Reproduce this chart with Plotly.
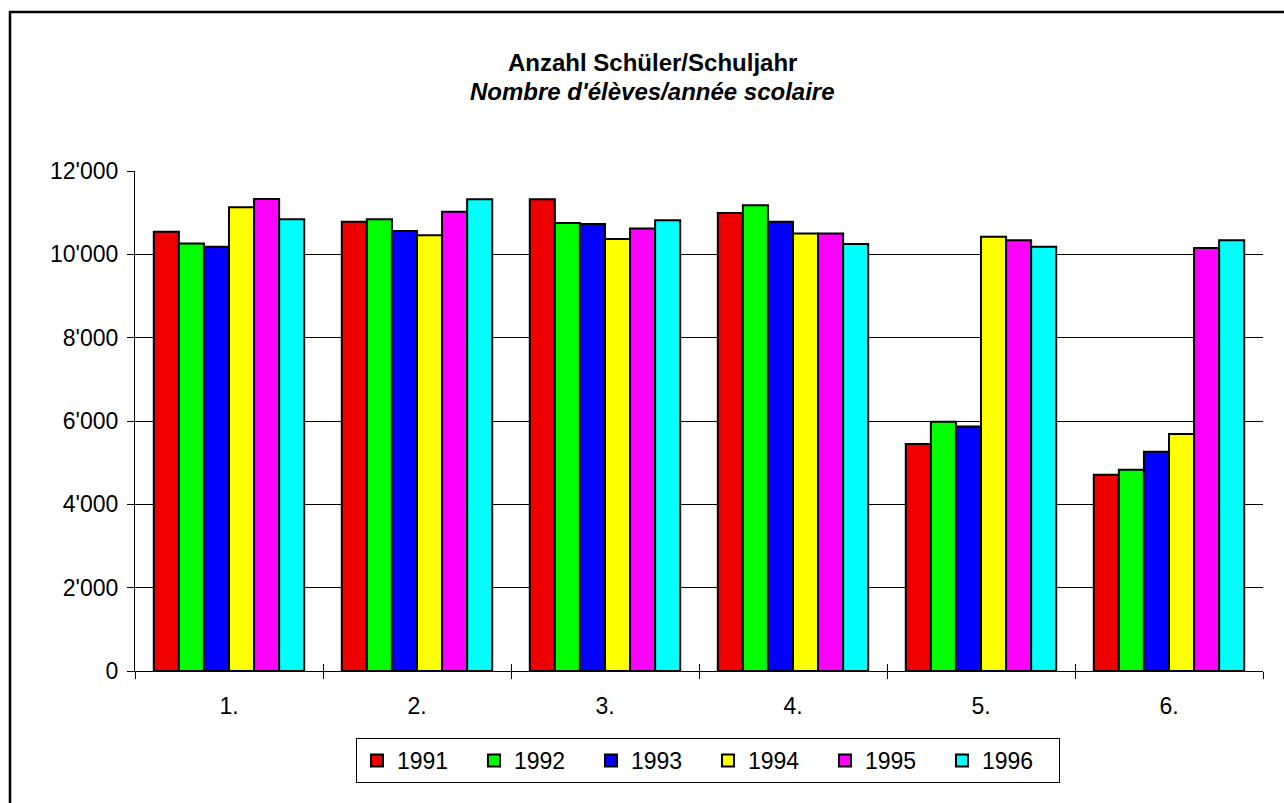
import plotly.graph_objects as go

categories = ["1.", "2.", "3.", "4.", "5.", "6."]
years = ["1991", "1992", "1993", "1994", "1995", "1996"]
values = {
    "1991": [10540, 10780, 11320, 10990, 5450, 4710],
    "1992": [10260, 10840, 10750, 11180, 5980, 4830],
    "1993": [10180, 10560, 10730, 10780, 5870, 5260],
    "1994": [11130, 10460, 10370, 10500, 10420, 5690],
    "1995": [11330, 11020, 10620, 10500, 10340, 10150],
    "1996": [10840, 11320, 10820, 10250, 10180, 10340],
}
colors = ["#EE0000", "#00FF00", "#0000FF", "#FFFF00", "#FF00FF", "#00FFFF"]
y_tickvals = [0, 2000, 4000, 6000, 8000, 10000, 12000]
y_ticktext = ["0", "2'000", "4'000", "6'000", "8'000", "10'000", "12'000"]
title1 = "Anzahl Schüler/Schuljahr"
title2 = "Nombre d'élèves/année scolaire"

FONT = "Liberation Sans, Arial, sans-serif"

fig = go.Figure()
for yr, col in zip(years, colors):
    fig.add_trace(go.Bar(
        x=categories, y=values[yr], name=yr,
        marker=dict(color=col, line=dict(color="black", width=2)),
    ))

# pixel geometry helpers
L, R, T, B = 135, 21, 171, 132
W, H = 1284, 803
pw, ph = W - L - R, H - T - B
def px(x): return (x - L) / pw
def py(y): return (H - B - y) / ph

fig.update_layout(
    width=W, height=H,
    margin=dict(l=L, r=R, t=T, b=B),
    paper_bgcolor="white", plot_bgcolor="white",
    barmode="group", bargap=0.2, bargroupgap=0,
    font=dict(family=FONT, size=23, color="black"),
    showlegend=True,
    legend=dict(
        orientation="h", x=px(708), xanchor="center", y=py(738), yanchor="top",
        bordercolor="black", borderwidth=1, bgcolor="white",
        font=dict(size=23), entrywidth=72, entrywidthmode="pixels",
        itemsizing="constant", itemwidth=30, tracegroupgap=0,
    ),
    xaxis=dict(
        type="category", showline=True, linecolor="black", linewidth=1,
        ticks="outside", ticklen=7, tickcolor="black", tickson="boundaries",
        showgrid=False, ticklabelstandoff=14, tickfont=dict(size=23),
    ),
    xaxis2=dict(
        overlaying="x", type="linear", range=[-0.5, 5.5],
        tickvals=[-0.5, 0.5, 1.5, 2.5, 3.5, 4.5, 5.5],
        ticks="inside", ticklen=7, tickcolor="black", showticklabels=False,
        showgrid=False, showline=False, zeroline=False, side="bottom",
    ),
    yaxis=dict(
        range=[0, 12000], tickvals=y_tickvals, ticktext=y_ticktext,
        showline=True, linecolor="black", linewidth=1,
        ticks="outside", ticklen=7, tickcolor="black",
        showgrid=True, gridcolor="black", gridwidth=1,
        zeroline=False, ticklabelstandoff=4, tickfont=dict(size=23),
    ),
    annotations=[
        dict(text="<b>" + title1 + "</b>", xref="paper", yref="paper",
             x=px(652), y=py(62), xanchor="center", yanchor="middle",
             showarrow=False, font=dict(size=24)),
        dict(text="<b><i>" + title2 + "</i></b>", xref="paper", yref="paper",
             x=px(652), y=py(91), xanchor="center", yanchor="middle",
             showarrow=False, font=dict(size=24)),
    ],
    shapes=[
        dict(type="rect", xref="paper", yref="paper",
             x0=px(10), x1=px(1292), y0=py(812), y1=py(12),
             line=dict(color="black", width=2.5), layer="below"),
    ],
)
# invisible trace to activate xaxis2
fig.add_trace(go.Scatter(x=[-0.5], y=[0], xaxis="x2", mode="markers",
                         marker=dict(opacity=0), showlegend=False, hoverinfo="skip"))

fig.write_html(
    "out.html",
    config={"displayModeBar": False},
    post_script="document.body.style.margin='0';document.body.style.overflow='hidden';",
)
